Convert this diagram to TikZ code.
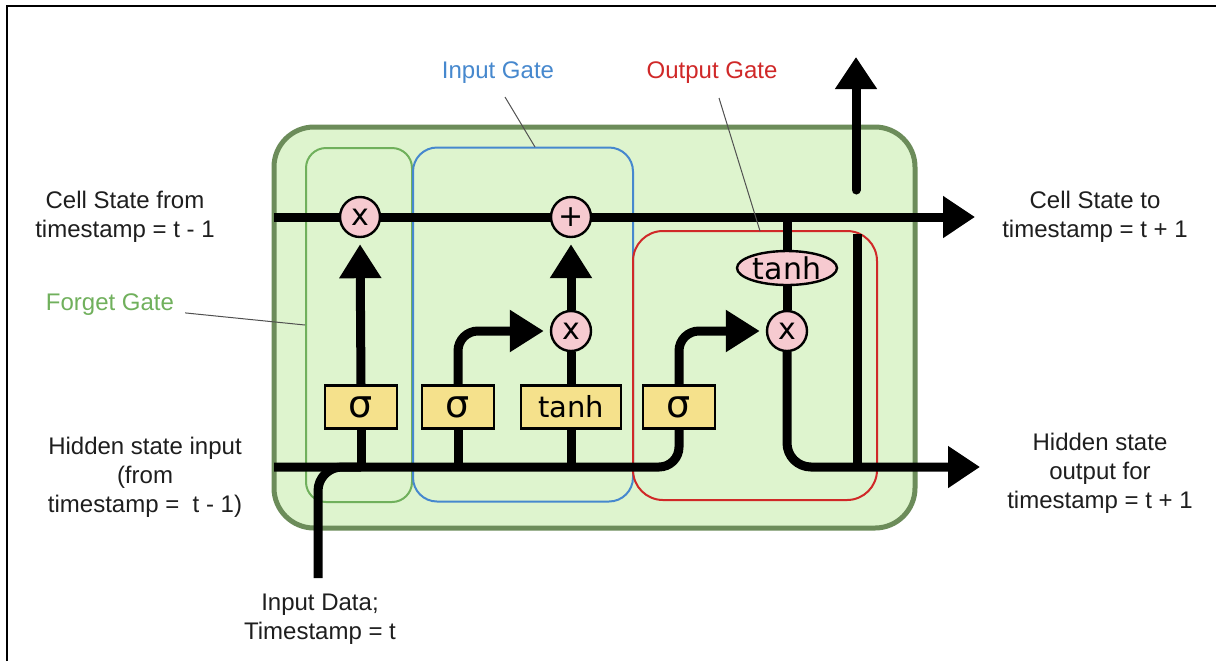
\documentclass[tikz,border=0pt]{standalone}
\usepackage{fontspec}
\setmainfont{Liberation Sans}
\newfontfamily\djv{DejaVu Sans}
\usetikzlibrary{arrows.meta,shapes.geometric,backgrounds}
\definecolor{cellfill}{RGB}{222,244,206}
\definecolor{cellborder}{RGB}{108,140,90}
\definecolor{fgcol}{RGB}{112,176,92}
\definecolor{igcol}{RGB}{70,136,206}
\definecolor{ogcol}{RGB}{208,40,40}
\definecolor{opfill}{RGB}{246,202,208}
\definecolor{actfill}{RGB}{245,225,140}
\definecolor{txt}{RGB}{30,30,30}
\definecolor{leadcol}{RGB}{80,80,80}
\begin{document}
\begin{tikzpicture}[x=0.5pt,y=-0.5pt,
  wire/.style={line width=4.5pt, black},
  tipwire/.style={wire, -{Triangle[width=20pt,length=16pt]}},
  optip/.style={wire, -{Triangle[width=20pt,length=17pt]}, shorten >=3pt},
  opnode/.style={circle, draw, line width=1.2pt, fill=opfill, minimum size=20pt, inner sep=0pt, font=\djv\fontsize{15}{15}\selectfont},
  actbox/.style={rectangle, draw, line width=1.2pt, fill=actfill, minimum height=21.5pt, inner sep=0pt},
  sigbox/.style={actbox, minimum width=36pt, font=\djv\fontsize{19}{19}\selectfont},
  tanhbox/.style={actbox, minimum width=50pt, font=\djv\fontsize{14.5}{14.5}\selectfont},
  gatebox/.style={rectangle, line width=1pt, inner sep=0pt},
  lbl/.style={font=\fontsize{12}{14.5}\selectfont, align=center, text=txt},
  leader/.style={leadcol, line width=0.5pt}
]
\useasboundingbox (0,0) rectangle (1216,661);

% operation nodes
\node[opnode] (mf) at (360,217) {x};
\node[opnode] (ma) at (571,217) {+};
\node[opnode] (mi) at (571,331) {x};
\node[opnode] (mo) at (787,331) {x};
\node[ellipse, draw, line width=1.2pt, fill=opfill, minimum width=50pt, minimum height=17pt, inner sep=0pt, font=\djv\fontsize{15}{15}\selectfont] (th) at (787,268) {tanh};
\node[sigbox] (sf) at (361,407) {σ};
\node[sigbox] (si) at (458,407) {σ};
\node[tanhbox] (tc) at (571,407) {tanh};
\node[sigbox] (so) at (679,407) {σ};

\coordinate (csin) at (274,217);
\coordinate (csout) at (975,217);
\coordinate (hin) at (274,467);
\coordinate (hout) at (980,467);
\coordinate (xin) at (318,578);
\coordinate (vtop) at (857,234);
\coordinate (upbot) at (856,190);
\coordinate (uptip) at (856,57);

\begin{scope}[on background layer]
  \fill[white] (0,0) rectangle (1216,661);
  \draw[line width=1pt] (7,661) -- (7,6) -- (1216,6);
  \node[draw=cellborder, fill=cellfill, line width=2.5pt, rounded corners=20pt, minimum width=320.5pt, minimum height=200.5pt] (cell) at (594.5,327.5) {};
  \node[gatebox, draw=fgcol, rounded corners=10pt, minimum width=53pt, minimum height=177pt] (fg) at (359,325) {};
  \node[gatebox, draw=igcol, rounded corners=12pt, minimum width=110pt, minimum height=177pt] (ig) at (523,324.5) {};
  \node[gatebox, draw=ogcol, rounded corners=15pt, minimum width=122pt, minimum height=134.5pt] (og) at (755,365.5) {};
  % wires
  \draw[tipwire] (csin) -- (csout);
  \draw[wire, rounded corners=10pt] (hin) -| (so.south);
  \draw[wire, rounded corners=12pt] (xin) |- (sf.south |- hin);
  \draw[wire] (sf.south) -- (sf.south |- hin);
  \draw[wire] (si.south) -- (si.south |- hin);
  \draw[wire] (tc.south) -- (tc.south |- hin);
  \draw[optip] (sf.north) -- (mf.south);
  \draw[optip, rounded corners=10pt] (si.north) |- (mi.west);
  \draw[wire] (tc.north) -- (mi.south);
  \draw[optip] (mi.north) -- (ma.south);
  \draw[optip, rounded corners=10pt] (so.north) |- (mo.west);
  \draw[wire] (th.north) -- (th.north |- csin);
  \draw[wire] (th.south) -- (mo.north);
  \draw[tipwire, rounded corners=12pt] (mo.south) |- (hout);
  \draw[wire] (vtop) -- (vtop |- hout);
  \draw[tipwire, line cap=round] (upbot) -- (uptip);
\end{scope}

% labels
\node[lbl] (lcsin) at (125,217) {Cell State from\\timestamp = t - 1};
\node[lbl] (lhin) at (145,477) {Hidden state input\\(from\\timestamp = \ t - 1)};
\node[lbl] (lxin) at (320,619) {Input Data;\\Timestamp = t};
\node[lbl] (lcsout) at (1095,217) {Cell State to\\timestamp = t + 1};
\node[lbl] (lhout) at (1100,473) {Hidden state\\output for\\timestamp = t + 1};
\node[lbl, text=fgcol] (lfg) at (110,305) {Forget Gate};
\node[lbl, text=igcol] (lig) at (498,73) {Input Gate};
\node[lbl, text=ogcol] (log) at (712,73) {Output Gate};
\coordinate (fgpt) at (fg.west);
\coordinate (igpt) at (535,147);
\coordinate (ogpt) at (760,231);
\draw[leader] (lfg.base east) ++(4,2) coordinate (fgs) -- (fgpt);
\draw[leader] (505,97) coordinate (igs) -- (igpt);
\draw[leader] (719,98) coordinate (ogs) -- (ogpt);
\end{tikzpicture}
\end{document}
